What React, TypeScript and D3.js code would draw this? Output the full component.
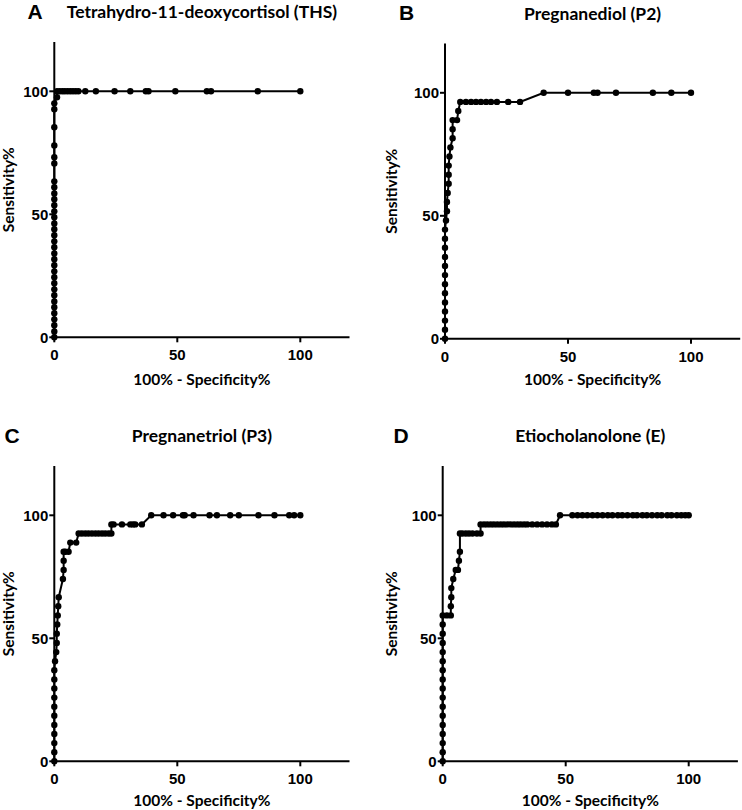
import React from "react";
import * as d3 from "d3";

// ---- data (x = 100% - Specificity%, y = Sensitivity%) ----
const thsX = [0,0,0,0,0,0,0,0,0,0,0,0,0,0,0,0,0,0,0,0,0,0,0,0,0,0,0,0,0,0,0,0,0,1.1,1.1,2.2,3.3,4.3,5.4,6.5,7.6,8.7,9.8,12.6,16.9,24.5,30.9,37.2,38.3,49.2,62.0,63.7,82.7,100];
const thsY = [0,2.4,4.9,7.3,9.8,12.2,14.6,17.1,19.5,22.0,24.4,26.8,29.3,31.7,34.1,36.6,39.0,41.5,43.9,46.3,48.8,51.2,53.7,56.1,58.5,61.0,63.4,70.7,73.2,78.0,85.4,92.7,95.1,97.6,100,100,100,100,100,100,100,100,100,100,100,100,100,100,100,100,100,100,100,100];

const p2X = [0,0,0,0,0,0,0,0,0,0,0,0,0,0.4,0.8,0.8,1.1,1.5,1.5,1.5,1.8,2.2,3.1,3.1,3.1,4.9,5.4,6.2,8.5,10.6,12.6,14.6,16.7,18.7,21.1,25.7,30.5,40.1,50.0,60.5,62.0,69.5,84.5,92.0,100];
const p2Y = [0,3.7,7.4,11.1,14.8,18.5,22.2,25.9,29.6,33.3,37.0,40.7,44.4,48.1,51.9,55.6,59.3,63.0,66.7,70.4,74.1,77.8,81.5,85.2,88.9,88.9,92.6,96.3,96.3,96.3,96.3,96.3,96.3,96.3,96.3,96.3,96.3,100,100,100,100,100,100,100,100];

const p3X = [0,0,0,0,0,0,0,0,0,0,0,0.3,0.8,1.0,1.0,1.2,1.4,1.6,1.8,3.5,3.8,3.8,3.8,4.5,5.8,6.5,8.9,9.9,11.2,12.6,13.9,15.3,16.7,18.0,19.4,20.7,22.1,23.2,23.2,24.1,27.5,30.9,32.0,32.9,35.6,39.4,44.4,48.3,52.3,53.0,56.6,63.1,66.1,71.5,75.0,83.0,89.5,95.5,97.5,100];
const p3Y = [0,3.7,7.4,11.1,14.8,18.5,22.2,25.9,29.6,33.3,37.0,40.7,44.4,48.1,51.9,55.6,59.3,63.0,66.7,74.1,77.8,81.5,85.2,85.2,85.2,88.9,88.9,92.6,92.6,92.6,92.6,92.6,92.6,92.6,92.6,92.6,92.6,92.6,96.3,96.3,96.3,96.3,96.3,96.3,96.3,100,100,100,100,100,100,100,100,100,100,100,100,100,100,100];

const eX = [0,0,0,0,0,0,0,0,0,0,0,0,0,0,0,0,0,1.7,3.3,3.3,3.5,3.5,4.3,5.3,6.2,6.6,7.0,7.0,8.0,9.4,10.7,12.1,13.9,15.4,15.4,16.8,18.1,19.5,20.8,22.2,23.6,24.9,26.3,27.6,29.0,30.4,31.7,33.1,34.4,36.4,38.4,40.4,42.4,44.4,46.0,47.7,52.7,54.8,56.8,58.8,60.9,62.9,65.0,67.1,69.0,71.2,73.0,75.1,77.3,79.0,81.2,83.0,85.1,87.2,89.0,91.3,93.0,95.2,97.0,98.6,100];
const eY = [0,3.7,7.4,11.1,14.8,18.5,22.2,25.9,29.6,33.3,37.0,40.7,44.4,48.1,51.9,55.6,59.3,59.3,59.3,63.0,66.7,70.4,74.1,77.8,77.8,81.5,85.2,92.6,92.6,92.6,92.6,92.6,92.6,92.6,96.3,96.3,96.3,96.3,96.3,96.3,96.3,96.3,96.3,96.3,96.3,96.3,96.3,96.3,96.3,96.3,96.3,96.3,96.3,96.3,96.3,100,100,100,100,100,100,100,100,100,100,100,100,100,100,100,100,100,100,100,100,100,100,100,100,100,100];

const panelTitles = ["Tetrahydro-11-deoxycortisol (THS)", "Pregnanediol (P2)", "Pregnanetriol (P3)", "Etiocholanolone (E)"];
const panelLetters = ["A", "B", "C", "D"];
const tickValues = [0, 50, 100];
const xAxisTitle = "100% - Specificity%";
const yAxisTitle = "Sensitivity%";

const seriesX = [thsX, p2X, p3X, eX];
const seriesY = [thsY, p2Y, p3Y, eY];

// layout
const layouts = [
  { x0: 54.3, y0: 337.3, letterX: 27.5, yTitleX: 14, xTitleDy: 47.5 },
  { x0: 445, y0: 338.8, letterX: 399, yTitleX: 397, xTitleDy: 46.5 },
  { x0: 54.3, y0: 761.3, letterX: 4.5, yTitleX: 14, xTitleDy: 44.5 },
  { x0: 442.7, y0: 761.3, letterX: 393.5, yTitleX: 396.5, xTitleDy: 44.5 },
];
const PX_PER_UNIT = 2.46;

function Panel({ idx }: { idx: number }) {
  const L = layouts[idx];
  const x = d3.scaleLinear().domain([0, 120]).range([L.x0, L.x0 + 120 * PX_PER_UNIT]);
  const y = d3.scaleLinear().domain([0, 120]).range([L.y0, L.y0 - 120 * PX_PER_UNIT]);
  const xs = seriesX[idx];
  const ys = seriesY[idx];
  const pts: [number, number][] = xs.map((v, i) => [v, ys[i]]);
  const line = d3.line<[number, number]>().x((d) => x(d[0])).y((d) => y(d[1]));
  const cx = (x(0) + x(120)) / 2;
  const cy = (y(0) + y(120)) / 2;
  const titleY = y(100) - 73;
  return (
    <g>
      <text x={L.letterX} y={titleY + 0.5} fontFamily="Liberation Sans, Arial, sans-serif" fontWeight="bold" fontSize={21}>
        {panelLetters[idx]}
      </text>
      <text x={cx} y={titleY} textAnchor="middle" fontFamily="Lato, sans-serif" fontWeight="bold" fontSize={17.5}>
        {panelTitles[idx]}
      </text>
      {/* axes */}
      <line x1={x(0)} x2={x(0)} y1={y(0) + 1} y2={y(120)} stroke="#000" strokeWidth={2} />
      <line x1={x(0) - 1} x2={x(120)} y1={y(0)} y2={y(0)} stroke="#000" strokeWidth={2} />
      {tickValues.map((t) => (
        <g key={"yt" + t}>
          <line x1={x(0) - 5} x2={x(0)} y1={y(t)} y2={y(t)} stroke="#000" strokeWidth={2} />
          <text x={x(0) - 6} y={y(t)} dy="0.36em" textAnchor="end" fontFamily="Liberation Sans, Arial, sans-serif" fontWeight="bold" fontSize={15}>
            {t}
          </text>
        </g>
      ))}
      {tickValues.map((t) => (
        <g key={"xt" + t}>
          <line x1={x(t)} x2={x(t)} y1={y(0)} y2={y(0) + 5} stroke="#000" strokeWidth={2} />
          <text x={x(t)} y={y(0) + 23} textAnchor="middle" fontFamily="Liberation Sans, Arial, sans-serif" fontWeight="bold" fontSize={15}>
            {t}
          </text>
        </g>
      ))}
      <text x={cx} y={y(0) + L.xTitleDy} textAnchor="middle" fontFamily="Lato, sans-serif" fontWeight="bold" fontSize={15.5}>
        {xAxisTitle}
      </text>
      <text transform={`translate(${L.yTitleX},${cy}) rotate(-90)`} textAnchor="middle" fontFamily="Lato, sans-serif" fontWeight="bold" fontSize={15.5}>
        {yAxisTitle}
      </text>
      {/* curve */}
      <path d={line(pts) || ""} fill="none" stroke="#000" strokeWidth={2} />
      {pts.map((d, i) => (
        <circle key={i} cx={x(d[0])} cy={y(d[1])} r={3.2} fill="#000" />
      ))}
    </g>
  );
}

export default function App() {
  return (
    <svg width={742} height={810} style={{ position: "absolute", left: 0, top: 0, background: "#fff" }}>
      <rect width={742} height={810} fill="#fff" />
      {[0, 1, 2, 3].map((i) => (
        <Panel key={i} idx={i} />
      ))}
    </svg>
  );
}
